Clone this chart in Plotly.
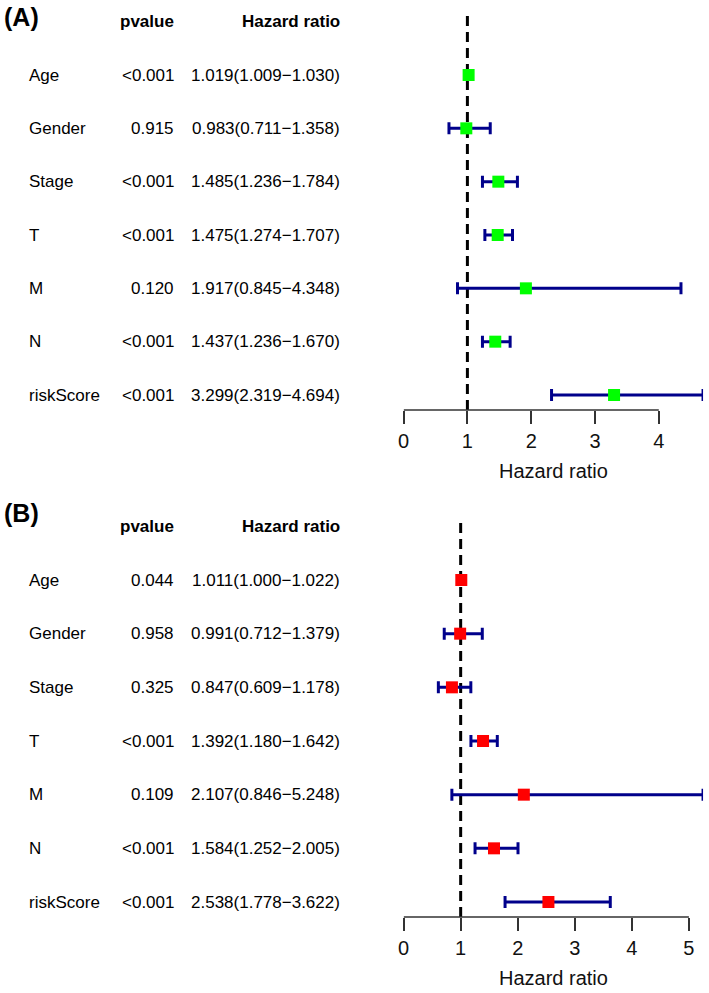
import plotly.graph_objects as go

# ---------------- data ----------------
variables = ["Age", "Gender", "Stage", "T", "M", "N", "riskScore"]

pvalue_a = ["<0.001", "0.915", "<0.001", "<0.001", "0.120", "<0.001", "<0.001"]
hr_a = [1.019, 0.983, 1.485, 1.475, 1.917, 1.437, 3.299]
low_a = [1.009, 0.711, 1.236, 1.274, 0.845, 1.236, 2.319]
high_a = [1.030, 1.358, 1.784, 1.707, 4.348, 1.670, 4.694]

pvalue_b = ["0.044", "0.958", "0.325", "<0.001", "0.109", "<0.001", "<0.001"]
hr_b = [1.011, 0.991, 0.847, 1.392, 2.107, 1.584, 2.538]
low_b = [1.000, 0.712, 0.609, 1.180, 0.846, 1.252, 1.778]
high_b = [1.022, 1.379, 1.178, 1.642, 5.248, 2.005, 3.622]

ticks_a = [0, 1, 2, 3, 4]
ticks_b = [0, 1, 2, 3, 4, 5]

# ---------------- layout helpers ----------------
W, H = 709, 993
FONT = "Liberation Sans, Arial, sans-serif"
n = len(variables)
rows = [n - i for i in range(n)]  # Age on top


def ppx(p):
    return p / W


def ppy(p):
    return 1 - p / H


fig = go.Figure()

panels = [
    dict(tag="(A)", pv=pvalue_a, hr=hr_a, lo=low_a, hi=high_a, ticks=ticks_a,
         color="#00FF00", top_row_px=75, bottom_row_px=395, axis_px=410,
         top_px=0, dash_top_px=13, label_px=17, xa="x", ya="y"),
    dict(tag="(B)", pv=pvalue_b, hr=hr_b, lo=low_b, hi=high_b, ticks=ticks_b,
         color="#FF0000", top_row_px=580, bottom_row_px=902, axis_px=917,
         top_px=496, dash_top_px=520, label_px=513, xa="x2", ya="y2"),
]

annotations = []
shapes = []
TXT = dict(family=FONT, size=17, color="black")
X_LABEL, X_PV, X_HR = 21, 171, 339

for k, p in enumerate(panels):
    s = (p["bottom_row_px"] - p["top_row_px"]) / (n - 1)
    y_lo = 1 - (p["axis_px"] - p["bottom_row_px"]) / s
    y_hi = n + (p["top_row_px"] - p["top_px"]) / s
    dash_top = n + (p["top_row_px"] - p["dash_top_px"]) / s
    xmax = max(p["hi"])
    xname = "xaxis" if k == 0 else "xaxis2"
    yname = "yaxis" if k == 0 else "yaxis2"

    fig.add_trace(go.Scatter(
        x=p["hr"], y=rows, mode="markers", xaxis=p["xa"], yaxis=p["ya"],
        marker=dict(symbol="square", size=12, color=p["color"]),
        error_x=dict(type="data", symmetric=False,
                     array=[h - m for h, m in zip(p["hi"], p["hr"])],
                     arrayminus=[m - l for m, l in zip(p["hr"], p["lo"])],
                     color="#00008B", thickness=3, width=6),
        cliponaxis=False, showlegend=False, hoverinfo="skip",
    ))

    fig.update_layout(**{
        xname: dict(domain=[ppx(401), ppx(703)], range=[0, xmax],
                    anchor=p["ya"], showgrid=False, zeroline=False,
                    showline=False, ticks="outside", tickvals=p["ticks"],
                    ticklen=13, tickwidth=1.5, tickcolor="#333333",
                    tickfont=dict(family=FONT, size=20, color="#111111")),
        yname: dict(domain=[ppy(p["axis_px"]), ppy(p["top_px"])],
                    range=[y_lo, y_hi], anchor=p["xa"], visible=False),
    })

    # axis line spanning the ticks only
    shapes.append(dict(type="line", xref=p["xa"], yref=p["ya"] + " domain",
                       x0=p["ticks"][0], x1=p["ticks"][-1], y0=0, y1=0,
                       line=dict(color="#333333", width=1.5), layer="above"))
    # reference line at HR = 1
    shapes.append(dict(type="line", xref=p["xa"], yref=p["ya"],
                       x0=1, x1=1, y0=y_lo, y1=dash_top,
                       line=dict(color="black", width=3, dash="10px,6px"),
                       layer="below"))

    # axis title
    annotations.append(dict(text="Hazard ratio", xref=p["xa"] + " domain",
                            yref="paper", x=0.5, y=ppy(p["axis_px"] + 61),
                            xanchor="center", yanchor="middle", showarrow=False,
                            font=dict(family=FONT, size=20, color="#111111")))
    # panel tag
    annotations.append(dict(text="<b>" + p["tag"] + "</b>", xref="paper",
                            yref="paper", x=0, xshift=-4, y=ppy(p["label_px"]),
                            xanchor="left", yanchor="middle", showarrow=False,
                            font=dict(family=FONT, size=25, color="black")))
    # column headers
    annotations.append(dict(text="<b>pvalue</b>", xref="paper", yref=p["ya"],
                            x=ppx(X_PV), y=n + 1, xanchor="right",
                            yanchor="middle", showarrow=False, font=TXT))
    annotations.append(dict(text="<b>Hazard ratio</b>", xref="paper",
                            yref=p["ya"], x=ppx(X_HR), y=n + 1,
                            xanchor="right", yanchor="middle", showarrow=False,
                            font=TXT))
    # table text
    for i, var in enumerate(variables):
        yv = rows[i]
        annotations.append(dict(text=var, xref="paper", yref=p["ya"],
                                x=ppx(X_LABEL), y=yv, xanchor="left",
                                yanchor="middle", showarrow=False, font=TXT))
        annotations.append(dict(text=p["pv"][i], xref="paper", yref=p["ya"],
                                x=ppx(X_PV), y=yv, xanchor="right",
                                yanchor="middle", showarrow=False, font=TXT))
        hrtxt = f"{p['hr'][i]:.3f}({p['lo'][i]:.3f}\u2212{p['hi'][i]:.3f})"
        annotations.append(dict(text=hrtxt, xref="paper", yref=p["ya"],
                                x=ppx(X_HR), y=yv, xanchor="right",
                                yanchor="middle", showarrow=False, font=TXT))

fig.update_layout(
    width=W, height=H, margin=dict(l=0, r=0, t=0, b=0),
    paper_bgcolor="white", plot_bgcolor="white",
    annotations=annotations, shapes=shapes,
    font=dict(family=FONT),
)

fig.write_html("out.html",
               config={"displayModeBar": False},
               post_script="document.body.style.margin='0';"
                           "document.body.style.overflow='hidden';")
